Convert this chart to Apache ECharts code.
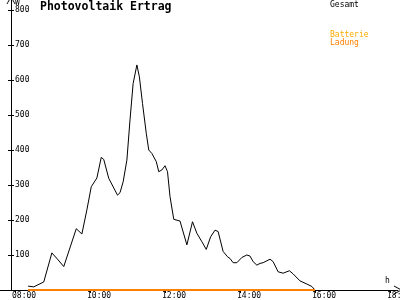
<!DOCTYPE html>
<html>
<head>
<meta charset="utf-8">
<script src="https://cdn.jsdelivr.net/npm/echarts@6/dist/echarts.min.js"></script>
<style>html,body{margin:0;padding:0;background:#fff}#c{width:400px;height:300px}</style>
</head>
<body>
<div id="c"></div>
<script>
// time in minutes since midnight
var gesamtTime = [501,510,526,539,549,558,578,587,595,602,611,618,622,630,644,648,653,659,664,669,675,679,684,690,694,699,706,710,715,720,724,728,734,744,755,764,771,779,786,793,800,805,813,820,824,829,835,843,851,856,861,867,872,877,888,893,901,909,919,925,936,947,955,960];
var gesamtValue = [11,9,23,106,86,67,175,160,229,295,320,379,373,319,271,278,309,371,486,590,643,609,533,448,400,390,367,338,343,355,338,267,202,197,129,195,162,138,116,152,171,167,110,95,90,78,78,93,100,97,81,71,76,78,88,81,52,48,55,46,26,17,10,0];
var ladungTime = [501,960];
var ladungValue = [0,0];
var batterieTime = [501,960];
var batterieValue = [0,0];
var xTicks = [480,600,720,840,960,1080];
var yTicks = [100,200,300,400,500,600,700,800];

function pairs(t,v){return t.map(function(x,i){return [x,v[i]];});}
function hhmm(m){var h=Math.floor(m/60),mm=Math.round(m%60);return (h<10?'0':'')+h+':'+(mm<10?'0':'')+mm;}

var FONT = 'DejaVu Sans Mono';
var arrow = 'path://M0,0L5,9L4,9L0,2L-4,9L-5,9Z';
var chart = echarts.init(document.getElementById('c'));
var xBase = {type:'value', min:456, max:1092.8, splitLine:{show:false}};
var yBase = {type:'value', min:0, max:828.57, splitLine:{show:false}, position:'left', offset:-11};
chart.setOption({
  animation:false,
  backgroundColor:'#fff',
  grid:{left:0,right:2,top:0,bottom:10,containLabel:false,outerBoundsMode:'none'},
  xAxis:[
    Object.assign({}, xBase, {
      axisLine:{show:true,onZero:false,lineStyle:{color:'#000',width:1},symbol:['none',arrow],symbolSize:[9,9]},
      axisTick:{show:true,inside:false,length:3,lineStyle:{color:'#000'},customValues:xTicks},
      axisLabel:{show:true,customValues:xTicks,formatter:hhmm,color:'#000',fontFamily:FONT,fontSize:8,align:'left',margin:2,padding:[0,0,0,-3],hideOverlap:false}
    }),
    Object.assign({}, xBase, {
      axisLine:{show:false},
      axisTick:{show:true,inside:true,length:3,lineStyle:{color:'#000'},customValues:xTicks},
      axisLabel:{show:false}
    })
  ],
  yAxis:[
    Object.assign({}, yBase, {
      axisLine:{show:true,onZero:false,lineStyle:{color:'#000',width:1},symbol:['none',arrow],symbolSize:[9,9]},
      axisTick:{show:true,inside:false,length:3,lineStyle:{color:'#000'},customValues:yTicks},
      axisLabel:{show:true,inside:true,customValues:yTicks,color:'#000',fontFamily:FONT,fontSize:8,margin:4}
    }),
    Object.assign({}, yBase, {
      axisLine:{show:false},
      axisTick:{show:true,inside:true,length:3,lineStyle:{color:'#000'},customValues:yTicks},
      axisLabel:{show:false}
    })
  ],
  series:[
    {name:'Gesamt',type:'line',data:pairs(gesamtTime,gesamtValue),showSymbol:false,symbol:'none',lineStyle:{color:'#000',width:1},z:3},
    {name:'Batterie',type:'line',data:pairs(batterieTime,batterieValue),showSymbol:false,symbol:'none',lineStyle:{color:'#ffaa00',width:2},z:4},
    {name:'Ladung',type:'line',data:pairs(ladungTime,ladungValue),showSymbol:false,symbol:'none',lineStyle:{color:'#ff8000',width:2},z:5}
  ],
  graphic:[
    {type:'text',left:40,top:1,style:{text:'Photovoltaik Ertrag',font:'bold 11.5px '+FONT,fill:'#000'}},
    {type:'text',left:15,top:-1,style:{text:'W',font:'8px '+FONT,fill:'#000'}},
    {type:'text',left:385,top:277,style:{text:'h',font:'8px '+FONT,fill:'#000'}},
    {type:'text',left:330,top:1,style:{text:'Gesamt',font:'8px '+FONT,fill:'#000'}},
    {type:'text',left:330,top:31,style:{text:'Batterie',font:'8px '+FONT,fill:'#ffaa00'}},
    {type:'text',left:330,top:39,style:{text:'Ladung',font:'8px '+FONT,fill:'#ff8000'}}
  ]
});
</script>
</body>
</html>
